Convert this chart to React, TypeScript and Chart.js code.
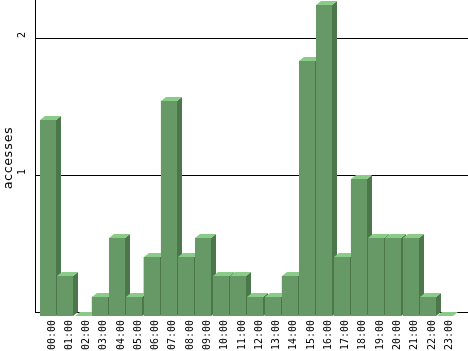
import React, { useEffect, useRef } from "react";
import { Chart, registerables } from "chart.js";

Chart.register(...registerables);

const hours = [
  "00:00", "01:00", "02:00", "03:00", "04:00", "05:00", "06:00", "07:00",
  "08:00", "09:00", "10:00", "11:00", "12:00", "13:00", "14:00", "15:00",
  "16:00", "17:00", "18:00", "19:00", "20:00", "21:00", "22:00", "23:00",
];
const accesses = [
  1.43, 0.29, 0, 0.14, 0.57, 0.14, 0.43, 1.57,
  0.43, 0.57, 0.29, 0.29, 0.14, 0.14, 0.29, 1.86,
  2.27, 0.43, 1.0, 0.57, 0.57, 0.57, 0.14, 0,
];
const yTickValues = [1, 2];
const yMax = 2.307;

const FRONT = "#669966";
const SIDE = "#4b774b";
const TOP = "#88cc88";
const DX = 5;
const DY = 4;
const MONO = "'DejaVu Sans Mono', monospace";

const threeD = {
  id: "threeD",
  beforeDatasetsDraw(chart: any) {
    const { ctx, chartArea, scales } = chart;
    const y = scales.y;
    const axisX = Math.round(chartArea.left - 4) + 0.5;
    ctx.save();
    ctx.strokeStyle = "#000";
    ctx.lineWidth = 1;
    const zeroY = Math.round(y.getPixelForValue(0) - DY) + 0.5;
    ctx.beginPath();
    ctx.moveTo(axisX, 0);
    ctx.lineTo(axisX, zeroY);
    ctx.stroke();
    [0, ...yTickValues].forEach((v) => {
      const py = Math.round(y.getPixelForValue(v) - DY) + 0.5;
      ctx.beginPath();
      ctx.moveTo(axisX - 0.5, py);
      ctx.lineTo(chart.width, py);
      ctx.stroke();
    });
    ctx.restore();
  },
  afterDatasetsDraw(chart: any) {
    const { ctx } = chart;
    const meta = chart.getDatasetMeta(0);
    ctx.save();
    meta.data.forEach((bar: any) => {
      const { x, y, base, width } = bar.getProps(["x", "y", "base", "width"], true);
      const l = Math.round(x - width / 2);
      const r = Math.round(x + width / 2);
      const t = Math.round(y);
      const b = Math.round(base);
      ctx.fillStyle = SIDE;
      ctx.beginPath();
      ctx.moveTo(r, t);
      ctx.lineTo(r + DX, t - DY);
      ctx.lineTo(r + DX, b - DY);
      ctx.lineTo(r, b);
      ctx.closePath();
      ctx.fill();
      ctx.fillStyle = TOP;
      ctx.beginPath();
      ctx.moveTo(l, t);
      ctx.lineTo(l + DX, t - DY);
      ctx.lineTo(r + DX, t - DY);
      ctx.lineTo(r, t);
      ctx.closePath();
      ctx.fill();
      ctx.fillStyle = FRONT;
      ctx.fillRect(l, t, r - l, b - t);
    });
    ctx.restore();
  },
};

export default function App() {
  const ref = useRef<HTMLCanvasElement | null>(null);
  useEffect(() => {
    if (!ref.current) return;
    const chart = new Chart(ref.current, {
      type: "bar",
      data: {
        labels: hours,
        datasets: [
          {
            label: "accesses",
            data: accesses,
            backgroundColor: FRONT,
            borderWidth: 0,
            categoryPercentage: 1,
            barPercentage: 0.926,
          },
        ],
      },
      options: {
        animation: false,
        responsive: false,
        events: [],
        layout: { padding: { left: 0, right: 14.1, top: 0, bottom: 0 } },
        plugins: { legend: { display: false }, tooltip: { enabled: false } },
        scales: {
          x: {
            type: "category",
            offset: true,
            grid: { display: false, drawTicks: false },
            border: { display: false },
            ticks: {
              autoSkip: false,
              minRotation: 90,
              maxRotation: 90,
              padding: 4,
              labelOffset: 4,
              color: "#000",
              font: { family: MONO, size: 10 },
            },
            afterFit(scale: any) {
              scale.height = 35;
              scale.paddingLeft = 0;
              scale.paddingRight = 0;
            },
          },
          y: {
            min: 0,
            max: yMax,
            grid: { display: false, drawTicks: false },
            border: { display: false },
            afterBuildTicks(scale: any) {
              scale.ticks = yTickValues.map((v) => ({ value: v }));
            },
            ticks: {
              minRotation: 90,
              maxRotation: 90,
              padding: 17,
              labelOffset: -10,
              color: "#000",
              font: { family: MONO, size: 10 },
            },
            title: {
              display: true,
              text: "accesses",
              color: "#000",
              font: { family: MONO, size: 13 },
              padding: { top: 1, bottom: 0 },
            },
            afterFit(scale: any) {
              scale.width = 39.36;
              scale.paddingTop = 0;
              scale.paddingBottom = 0;
            },
          },
        },
      },
      plugins: [threeD],
    });
    return () => chart.destroy();
  }, []);
  return (
    <div style={{ position: "absolute", left: 0, top: 0, width: 468, height: 351, background: "#fff" }}>
      <canvas ref={ref} width={468} height={351} style={{ display: "block" }} />
    </div>
  );
}
